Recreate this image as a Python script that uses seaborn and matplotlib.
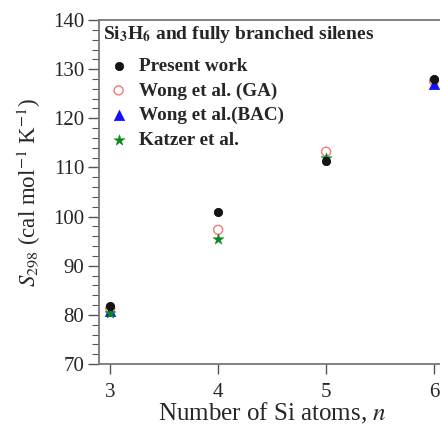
import matplotlib
matplotlib.use("Agg")
import matplotlib.pyplot as plt
from matplotlib.ticker import MultipleLocator
import seaborn as sns
import pandas as pd

# Standard entropies S298 (cal mol^-1 K^-1) of Si3H6 and fully branched silenes
present_n = [3, 4, 5, 6]
present_s = [81.8, 100.9, 111.4, 128.0]
wong_ga_n = [3, 4, 5, 6]
wong_ga_s = [81.3, 97.3, 113.2, 127.6]
wong_bac_n = [3, 6]
wong_bac_s = [80.8, 126.9]
katzer_n = [3, 4, 5]
katzer_s = [80.3, 95.4, 112.0]

x_ticks = [3, 4, 5, 6]

sns.set_theme(style="white")
plt.rcParams["font.family"] = ["Liberation Serif", "DejaVu Serif"]
plt.rcParams["mathtext.fontset"] = "stix"

fig = plt.figure(figsize=(4.4, 4.25), dpi=100)
ax = fig.add_axes([0.226, 0.1435, 0.785, 0.8094])

series = [
    ("Wong et al. (GA)", wong_ga_n, wong_ga_s,
     dict(marker="o", s=42, facecolor="none", edgecolor="#f07a7a", linewidth=1.0)),
    ("Wong et al.(BAC)", wong_bac_n, wong_bac_s,
     dict(marker="^", s=55, color="#1010ff", edgecolor="#1010ff", linewidth=0.5)),
    ("Katzer et al.", katzer_n, katzer_s,
     dict(marker="*", s=70, color="#0a8a1a", edgecolor="#0a8a1a", linewidth=0.3)),
    ("Present work", present_n, present_s,
     dict(marker="o", s=36, color="#151515", edgecolor="#000000", linewidth=0.5)),
]

for label, xs, ys, kw in series:
    df = pd.DataFrame({"n": xs, "S": ys})
    sns.scatterplot(data=df, x="n", y="S", ax=ax, label=label, zorder=3, **kw)

# legend in the original order
h, l = ax.get_legend_handles_labels()
order = ["Present work", "Wong et al. (GA)", "Wong et al.(BAC)", "Katzer et al."]
hmap = dict(zip(l, h))
leg = ax.legend([hmap[k] for k in order], order,
                loc="upper left", frameon=False,
                title=r"Si$_\mathbf{3}$H$_\mathbf{6}$ and fully branched silenes",
                alignment="left", prop={"weight": "bold", "size": 13.8},
                title_fontproperties={"weight": "bold", "size": 14},
                handletextpad=0.25, labelspacing=0.38, borderaxespad=0.15,
                borderpad=0.05, handlelength=1.6)
# extra room between the legend title and its entries
leg._legend_box.sep = 9.0

ax.set_xlim(2.9, 6.1)
ax.set_ylim(70, 140)
ax.set_xticks(x_ticks)
ax.yaxis.set_major_locator(MultipleLocator(10))
ax.yaxis.set_minor_locator(MultipleLocator(2))

ax.tick_params(axis="y", which="major", direction="out", length=8, width=1,
               color="#555555", labelsize=15, pad=3, left=True)
ax.tick_params(axis="y", which="minor", direction="out", length=5, width=0.8,
               color="#555555", left=True)
ax.tick_params(axis="x", which="major", direction="out", length=7, width=1,
               color="#555555", labelsize=15, pad=7, bottom=True)

for sp in ax.spines.values():
    sp.set_color("#777777")
    sp.set_linewidth(1.3)

ax.set_xlabel(r"Number of Si atoms, $n$", fontsize=18, labelpad=-1)
ax.set_ylabel(r"$S_{298}$ (cal mol$^{-1}$ K$^{-1}$)", fontsize=16.5, labelpad=7)

fig.savefig("out.png", dpi=100)
